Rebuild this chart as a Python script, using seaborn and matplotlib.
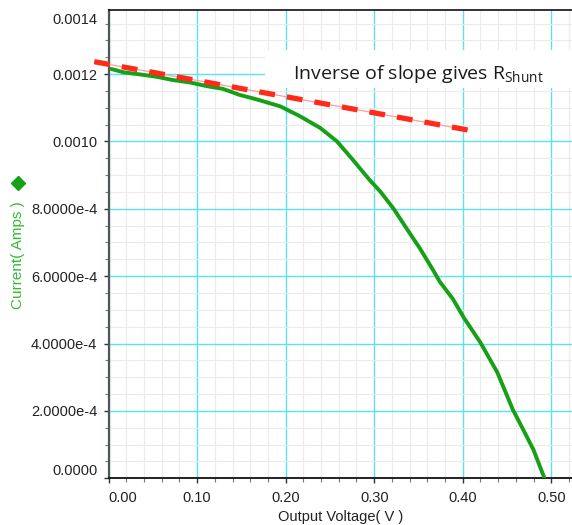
import numpy as np
import matplotlib
matplotlib.use('Agg')
import matplotlib.pyplot as plt
import seaborn as sns
from matplotlib.ticker import MultipleLocator, FixedLocator, FixedFormatter
from matplotlib.patches import Rectangle
from matplotlib.lines import Line2D

# I-V curve (volts, amps)
voltage = [0.003, 0.017, 0.035, 0.054, 0.073, 0.092, 0.111, 0.129, 0.148, 0.167,
           0.194, 0.216, 0.239, 0.258, 0.276, 0.295, 0.307, 0.322, 0.337, 0.352,
           0.367, 0.374, 0.389, 0.401, 0.420, 0.439, 0.457, 0.4685, 0.480, 0.492]
current_ma = [1.215, 1.205, 1.199, 1.192, 1.182, 1.175, 1.164, 1.156, 1.138, 1.125,
              1.104, 1.075, 1.040, 1.000, 0.945, 0.885, 0.851, 0.800, 0.740, 0.681,
              0.616, 0.584, 0.532, 0.478, 0.403, 0.315, 0.202, 0.144, 0.0845, 0.003]
current = [c * 1e-3 for c in current_ma]

# slope line (shunt resistance fit)
fit_v = [-0.0163, 0.4056]
fit_i = [1.2367e-3, 1.0340e-3]

y_ticks = [0.0, 0.0002, 0.0004, 0.0006, 0.0008, 0.0010, 0.0012]
y_tick_labels = ['0.0000', '2.0000e-4', '4.0000e-4', '6.0000e-4', '8.0000e-4', '0.0010', '0.0012']
x_ticks = [0.0, 0.1, 0.2, 0.3, 0.4, 0.5]
x_tick_labels = ['0.00', '0.10', '0.20', '0.30', '0.40', '0.50']

sns.set_style('white')
plt.rcParams['font.family'] = ['Liberation Sans', 'DejaVu Sans']
plt.rcParams['mathtext.fontset'] = 'custom'
plt.rcParams['mathtext.rm'] = 'Open Sans'

fig = plt.figure(figsize=(5.72, 5.25), dpi=100)
ax = fig.add_axes([0.190, 0.0889, 0.810, 0.892])

green = '#15a015'
sns.lineplot(x=voltage, y=current, sort=False, estimator=None, color=green,
             linewidth=2.8, ax=ax, zorder=3)

# thin line + thick dashes on top
ax.plot(fit_v, fit_i, color='#ff9d9d', linewidth=0.9, clip_on=False, zorder=3.5)
red, = ax.plot(fit_v, fit_i, color='#ff2a1a', linewidth=3.8, clip_on=False,
               zorder=4, solid_capstyle='butt', dash_capstyle='butt')
red.set_dashes((3.0, 2.3))

ax.set_xlim(0, 0.5235)
ax.set_ylim(0, 0.00139)

ax.xaxis.set_major_locator(FixedLocator(x_ticks))
ax.xaxis.set_major_formatter(FixedFormatter(x_tick_labels))
ax.yaxis.set_major_locator(FixedLocator(y_ticks))
ax.yaxis.set_major_formatter(FixedFormatter(y_tick_labels))
ax.xaxis.set_minor_locator(MultipleLocator(0.02))
ax.yaxis.set_minor_locator(MultipleLocator(0.00005))

ax.set_axisbelow(True)
ax.grid(which='minor', color='#ebebeb', linewidth=0.8)
ax.grid(which='major', color='#5ae3ef', linewidth=1.0)

ax.tick_params(which='major', direction='out', length=3.6, width=1, colors='#333333',
               labelcolor='#222222', labelsize=10.5, left=True, bottom=True)
ax.tick_params(axis='y', which='major', pad=4.6)
ax.tick_params(axis='x', which='major', pad=5.5)
ax.tick_params(which='minor', direction='out', length=2.6, width=0.8, colors='#777777',
               left=True, bottom=True)

for lbl in ax.get_xticklabels()[:1]:
    lbl.set_ha('left')
ax.get_yticklabels()[0].set_va('bottom')

# top label sits just under the top spine
ax.annotate('0.0014', xy=(0, 1), xycoords='axes fraction', xytext=(-11.7, -3),
            textcoords='offset pixels', ha='right', va='top', fontsize=10.5,
            color='#222222')

for side in ['left', 'bottom', 'top']:
    ax.spines[side].set_visible(True)
ax.spines['right'].set_visible(False)
ax.spines['left'].set_color('#555555')
ax.spines['left'].set_linewidth(1.6)
ax.spines['bottom'].set_color('#111111')
ax.spines['bottom'].set_linewidth(1.3)
ax.spines['top'].set_color('#111111')
ax.spines['top'].set_linewidth(1.2)

ax.set_xlabel('Output Voltage( V )', fontsize=10.5, color='#222222', labelpad=3.5)
ax.set_ylabel('Current( Amps )', fontsize=11, color='#33bb33')
ax.yaxis.set_label_coords(-0.196, 0.477)
ax.yaxis.label.set_va('center')

fig.add_artist(Line2D([18.3 / 572], [1 - 182.7 / 525], marker='D', markersize=7.5,
                      color=green, linestyle='none', transform=fig.transFigure))

# white box behind the note
ax.add_patch(Rectangle((0.337, 0.833), 0.663, 0.082, transform=ax.transAxes,
                       facecolor='white', edgecolor='none', zorder=1.5))
ax.text(0.398, 0.853, r'Inverse of slope gives R$_{\mathrm{Shunt}}$', transform=ax.transAxes,
        ha='left', va='baseline', fontsize=14, family=['Open Sans', 'DejaVu Sans'],
        color='#1a1a1a', zorder=5)

plt.savefig('out.png', dpi=100)
plt.close()
